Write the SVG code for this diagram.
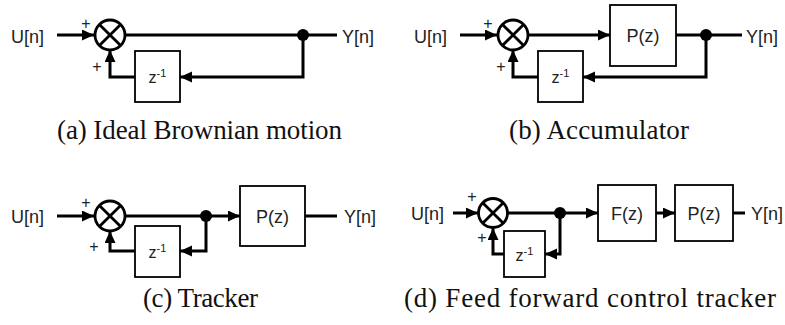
<svg xmlns="http://www.w3.org/2000/svg" width="785" height="325" viewBox="0 0 785 325">
<defs>
<marker id="ah" markerUnits="userSpaceOnUse" markerWidth="13" markerHeight="12" refX="12" refY="5.5" orient="auto">
<path d="M0,0 L12,5.5 L0,11 z" fill="#000"/>
</marker>
</defs>
<style>
.w{fill:none;stroke:#000;stroke-width:3}
.wa{fill:none;stroke:#000;stroke-width:3;marker-end:url(#ah)}
.box{fill:#fff;stroke:#000;stroke-width:1.8}
.sum{fill:#fff;stroke:#000;stroke-width:2.8}
.x{stroke:#000;stroke-width:2.8}
.dot{fill:#000}
.lbl{font-family:"Liberation Sans",Arial,sans-serif;font-size:18px;fill:#222;dominant-baseline:central}
.blk{font-family:"Liberation Sans",Arial,sans-serif;font-size:18px;fill:#222;text-anchor:middle;dominant-baseline:central}
.zs{font-family:"Liberation Sans",Arial,sans-serif;font-size:16px;fill:#222;text-anchor:middle}
.pl{font-family:"Liberation Sans",Arial,sans-serif;font-size:16px;fill:#222;text-anchor:middle;dominant-baseline:central}
.cap{font-family:"Liberation Serif","Times New Roman",serif;font-size:27px;fill:#111}
</style>

<g id="connectors">
<!-- a -->
<path class="wa" d="M57,35 H94"/>
<path class="w" d="M125,35 H337"/>
<path class="wa" d="M303,35 V77 H180"/>
<path class="wa" d="M135,77 H110 V50"/>
<!-- b -->
<path class="wa" d="M460,35 H497"/>
<path class="wa" d="M528,35 H610"/>
<path class="w" d="M676,35 H742"/>
<path class="wa" d="M706,35 V77 H583"/>
<path class="wa" d="M538,77 H513 V50"/>
<!-- c -->
<path class="wa" d="M57,216 H94"/>
<path class="wa" d="M125,216 H240"/>
<path class="w" d="M305,216 H337"/>
<path class="wa" d="M206,216 V251 H180"/>
<path class="wa" d="M135,251 H110 V231"/>
<!-- d -->
<path class="wa" d="M453,213 H478"/>
<path class="wa" d="M508,213 H598"/>
<path class="wa" d="M656,213 H675"/>
<path class="w" d="M733,213 H745"/>
<path class="wa" d="M560,213 V254 H545"/>
<path class="wa" d="M504,254 H493 V228"/>
</g>

<!-- (a) Ideal Brownian motion -->
<g id="a-in"><text class="lbl" x="11" y="37">U[n]</text></g>
<g id="a-sum">
<circle class="sum" cx="110" cy="35" r="15"/>
<path class="x" d="M99.4,24.4 L120.6,45.6 M120.6,24.4 L99.4,45.6"/>
<text class="pl" x="86" y="23">+</text>
<text class="pl" x="97" y="66">+</text>
</g>
<g id="a-delay">
<rect class="box" x="135" y="51" width="45" height="51"/>
<text class="zs" x="157.5" y="83">z<tspan font-size="11" dy="-6">-1</tspan></text>
</g>
<g id="a-dot"><circle class="dot" cx="303" cy="35" r="6"/></g>
<g id="a-out"><text class="lbl" x="342" y="37">Y[n]</text></g>
<g id="a-caption"><text class="cap" x="57" y="139" textLength="285" lengthAdjust="spacing">(a) Ideal Brownian motion</text></g>

<!-- (b) Accumulator -->
<g id="b-in"><text class="lbl" x="414" y="37">U[n]</text></g>
<g id="b-sum">
<circle class="sum" cx="513" cy="35" r="15"/>
<path class="x" d="M502.4,24.4 L523.6,45.6 M523.6,24.4 L502.4,45.6"/>
<text class="pl" x="488" y="23">+</text>
<text class="pl" x="501" y="66">+</text>
</g>
<g id="b-plant">
<rect class="box" x="610" y="5" width="66" height="61"/>
<text class="blk" x="643" y="36">P(z)</text>
</g>
<g id="b-delay">
<rect class="box" x="538" y="51" width="45" height="51"/>
<text class="zs" x="560.5" y="83">z<tspan font-size="11" dy="-6">-1</tspan></text>
</g>
<g id="b-dot"><circle class="dot" cx="706" cy="35" r="6"/></g>
<g id="b-out"><text class="lbl" x="746" y="37">Y[n]</text></g>
<g id="b-caption"><text class="cap" x="509" y="139" textLength="180" lengthAdjust="spacing">(b) Accumulator</text></g>

<!-- (c) Tracker -->
<g id="c-in"><text class="lbl" x="11" y="217">U[n]</text></g>
<g id="c-sum">
<circle class="sum" cx="110" cy="216" r="15"/>
<path class="x" d="M99.4,205.4 L120.6,226.6 M120.6,205.4 L99.4,226.6"/>
<text class="pl" x="86" y="202">+</text>
<text class="pl" x="94" y="246">+</text>
</g>
<g id="c-delay">
<rect class="box" x="135" y="226" width="45" height="51"/>
<text class="zs" x="157.5" y="258">z<tspan font-size="11" dy="-6">-1</tspan></text>
</g>
<g id="c-dot"><circle class="dot" cx="206" cy="216" r="6"/></g>
<g id="c-plant">
<rect class="box" x="240" y="186" width="65" height="60"/>
<text class="blk" x="272.5" y="217">P(z)</text>
</g>
<g id="c-out"><text class="lbl" x="344" y="217">Y[n]</text></g>
<g id="c-caption"><text class="cap" x="143" y="307" textLength="115" lengthAdjust="spacing">(c) Tracker</text></g>

<!-- (d) Feed forward control tracker -->
<g id="d-in"><text class="lbl" x="411" y="214">U[n]</text></g>
<g id="d-sum">
<circle class="sum" cx="493" cy="213" r="14.5"/>
<path class="x" d="M482.7,202.7 L503.3,223.3 M503.3,202.7 L482.7,223.3"/>
<text class="pl" x="472" y="196">+</text>
<text class="pl" x="482" y="237">+</text>
</g>
<g id="d-delay">
<rect class="box" x="504" y="231" width="41" height="46"/>
<text class="zs" x="524.5" y="261">z<tspan font-size="11" dy="-6">-1</tspan></text>
</g>
<g id="d-dot"><circle class="dot" cx="560" cy="213" r="6"/></g>
<g id="d-ff">
<rect class="box" x="598" y="185" width="58" height="56"/>
<text class="blk" x="627" y="214">F(z)</text>
</g>
<g id="d-plant">
<rect class="box" x="675" y="185" width="58" height="56"/>
<text class="blk" x="704" y="214">P(z)</text>
</g>
<g id="d-out"><text class="lbl" x="751" y="214">Y[n]</text></g>
<g id="d-caption"><text class="cap" x="404" y="307" textLength="372" lengthAdjust="spacing">(d) Feed forward control tracker</text></g>
</svg>
